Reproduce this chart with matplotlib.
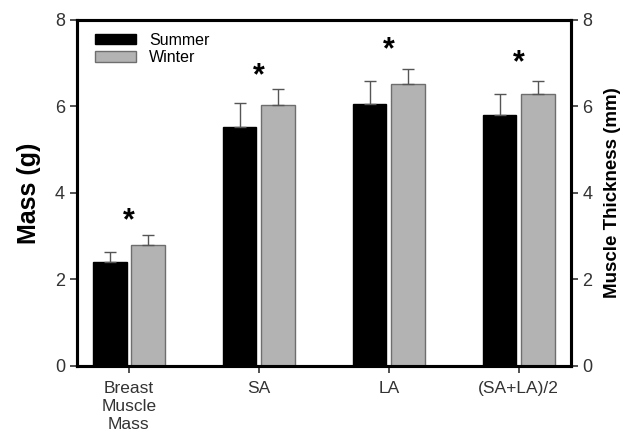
import matplotlib
matplotlib.use("Agg")
import matplotlib.pyplot as plt
import numpy as np

plt.rcParams['font.family'] = ['Liberation Sans', 'DejaVu Sans']

categories = ["Breast\nMuscle\nMass", "SA", "LA", "(SA+LA)/2"]
summer = [2.40, 5.53, 6.06, 5.80]
summer_err = [0.23, 0.54, 0.53, 0.48]
winter = [2.80, 6.04, 6.51, 6.28]
winter_err = [0.23, 0.36, 0.36, 0.31]
star_y = [3.35, 6.7, 7.3, 7.0]

x = np.arange(len(categories))
w = 0.26
off = 0.148

fig = plt.figure(figsize=(6.3, 4.33), dpi=100)
ax = fig.add_axes([0.122, 0.155, 0.784, 0.799])

ax.bar(x - off, summer, w, color='black', edgecolor='black', label='Summer')
ax.bar(x + off, winter, w, color='#b3b3b3', edgecolor='#6e6e6e', linewidth=1, label='Winter')
ax.errorbar(x - off, summer, yerr=[np.zeros(4), summer_err], fmt='none',
            ecolor='#555555', elinewidth=1, capsize=4, capthick=1)
ax.errorbar(x + off, winter, yerr=[np.zeros(4), winter_err], fmt='none',
            ecolor='#555555', elinewidth=1, capsize=4, capthick=1)

for xi, yi in zip(x, star_y):
    ax.text(xi, yi, "*", ha='center', va='center', fontsize=22, fontweight='bold')

ax.set_xlim(-0.4, 3.4)
ax.set_ylim(0, 8)
ax.set_yticks([0, 2, 4, 6, 8])
ax.set_xticks(x)
ax.set_xticklabels(categories, fontsize=12.5, linespacing=1.25)
ax.tick_params(axis='both', direction='out', length=5, width=1.2, colors='#333333')
ax.tick_params(axis='x', pad=6)
ax.tick_params(axis='y', labelsize=13)
ax.set_ylabel("Mass (g)", fontsize=18, fontweight='bold', labelpad=10)
for s in ax.spines.values():
    s.set_linewidth(2.2)

ax2 = ax.twinx()
ax2.set_ylim(0, 8)
ax2.set_yticks([0, 2, 4, 6, 8])
ax2.tick_params(axis='y', direction='out', length=5, width=1.2, labelsize=13, colors='#333333')
ax2.set_ylabel("Muscle Thickness (mm)", fontsize=13.5, fontweight='bold', labelpad=8)
for s in ax2.spines.values():
    s.set_linewidth(2.2)

ax.legend(loc='upper left', frameon=False, fontsize=11.5, handlelength=2.6,
          handleheight=0.6, borderaxespad=0.4, labelspacing=0.15,
          bbox_to_anchor=(0.01, 1.0))

fig.savefig("out.png", dpi=100)
